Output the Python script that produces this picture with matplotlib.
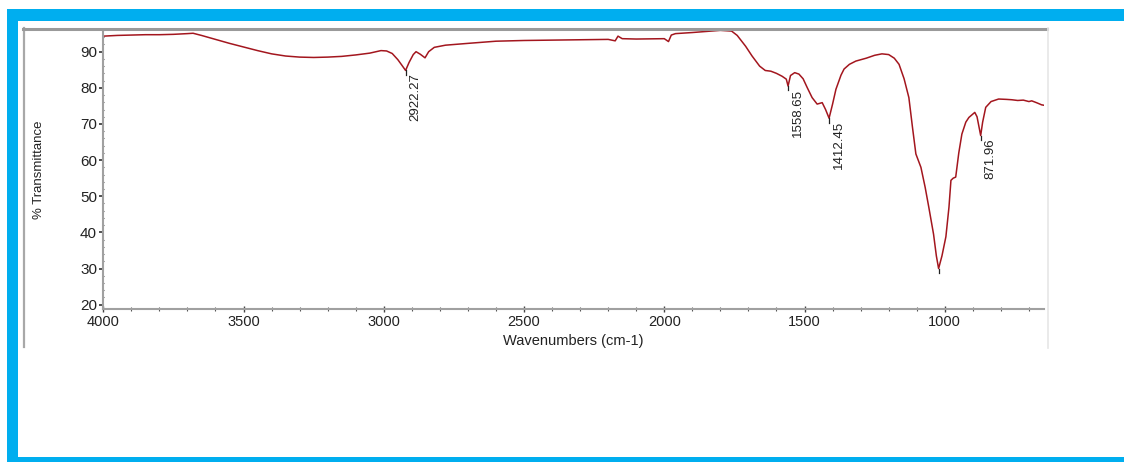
import matplotlib.pyplot as plt
plt.switch_backend('Agg')
import matplotlib
from matplotlib.lines import Line2D
from matplotlib.patches import Rectangle
from matplotlib.ticker import MultipleLocator
import numpy as np

plt.rcParams.update({
    'font.family': ['Liberation Sans', 'DejaVu Sans'],
    'font.size': 10.5,
})

# FTIR spectrum, wavenumber (cm-1) vs % transmittance
wavenumber = [4000, 3950, 3900, 3850, 3800, 3750, 3700, 3680, 3650, 3600,
              3550, 3500, 3450, 3400, 3350, 3300, 3250, 3200, 3150, 3100,
              3050, 3010, 2990, 2970, 2950, 2935, 2922.27, 2910, 2895, 2885,
              2870, 2853, 2840, 2820, 2780, 2700, 2600, 2500, 2400, 2300,
              2200, 2175, 2165, 2150, 2100, 2000, 1985, 1975, 1960, 1900,
              1850, 1800, 1760, 1740, 1710, 1687, 1660, 1640, 1620, 1600,
              1580, 1565, 1558.65, 1550, 1535, 1520, 1505, 1490, 1473, 1455,
              1437, 1425, 1412.45, 1400, 1388, 1370, 1359, 1340, 1317, 1280,
              1250, 1224, 1200, 1180, 1163, 1145, 1128, 1115, 1103, 1085,
              1070, 1057, 1040, 1030, 1022, 1010, 996, 985, 978, 970,
              961, 950, 939, 925, 914, 893, 885, 871.96, 865, 854,
              835, 808, 780, 761, 740, 720, 700, 690, 670, 655, 648]
transmittance = [94.3, 94.5, 94.6, 94.7, 94.7, 94.8, 95.0, 95.1, 94.5, 93.4,
                 92.3, 91.3, 90.3, 89.4, 88.8, 88.5, 88.4, 88.5, 88.7, 89.1,
                 89.6, 90.3, 90.2, 89.5, 87.8, 86.2, 84.8, 87.0, 89.2, 90.0,
                 89.3, 88.3, 90.0, 91.2, 91.8, 92.3, 92.9, 93.1, 93.2, 93.3,
                 93.4, 93.0, 94.3, 93.6, 93.5, 93.6, 92.8, 94.6, 95.0, 95.3,
                 95.6, 95.9, 95.7, 94.5, 91.5, 88.8, 86.0, 84.8, 84.6, 84.0,
                 83.2, 82.4, 80.5, 83.4, 84.2, 83.8, 82.5, 80.0, 77.3, 75.5,
                 75.9, 74.0, 71.6, 75.5, 79.6, 83.5, 85.2, 86.5, 87.4, 88.2,
                 89.0, 89.4, 89.2, 88.2, 86.5, 82.5, 77.3, 69.0, 61.7, 58.0,
                 52.5, 47.0, 39.5, 33.5, 30.0, 33.5, 38.8, 47.0, 54.4, 55.0,
                 55.3, 62.0, 67.2, 70.5, 71.8, 73.2, 72.0, 66.8, 70.5, 74.6,
                 76.2, 76.9, 76.8, 76.7, 76.5, 76.6, 76.2, 76.4, 75.8, 75.3, 75.2]

# picked peaks (empty label = marker only)
peak_pos = [2922.27, 1558.65, 1412.45, 1022, 871.96]
peak_labels = ['2922.27', '1558.65', '1412.45', '', '871.96']

W, H = 1124, 462
fig = plt.figure(figsize=(W / 100, H / 100), dpi=100)


def fx(px):
    return px / W


def fy(py):
    return 1 - py / H


# blue border
blue = '#00AEEF'
fig.add_artist(Rectangle((fx(7), fy(20.5)), fx(W - 7), 11.5 / H, transform=fig.transFigure,
                         color=blue, lw=0))
fig.add_artist(Rectangle((fx(7), fy(462)), fx(10.5), fy(9) - fy(462), transform=fig.transFigure,
                         color=blue, lw=0))
fig.add_artist(Rectangle((fx(7), fy(462)), fx(W - 7), 5 / H, transform=fig.transFigure,
                         color=blue, lw=0))

# grey frame round the plot
fig.add_artist(Line2D([fx(23.5), fx(23.5)], [fy(28), fy(347)], transform=fig.transFigure,
                      color='#a8a8a8', lw=1.6))
fig.add_artist(Line2D([fx(23), fx(1047)], [fy(29.3), fy(29.3)], transform=fig.transFigure,
                      color='#9a9a9a', lw=2.2))
fig.add_artist(Line2D([fx(1047.5), fx(1047.5)], [fy(28), fy(348)], transform=fig.transFigure,
                      color='#e6e6e6', lw=1.2))

ax = fig.add_axes([fx(103.3), fy(309), fx(1043.5) - fx(103.3), fy(30) - fy(309)])
ax.plot(wavenumber, transmittance, color='#A3161E', lw=1.1)

wn_inc = np.array(wavenumber[::-1])
tr_inc = np.array(transmittance[::-1])
for pos, lab in zip(peak_pos, peak_labels):
    yv = np.interp(pos, wn_inc, tr_inc)
    ax.plot([pos, pos], [yv, yv - 1.2], color='#222222', lw=0.9)
    if lab:
        ax.annotate(lab, xy=(pos, yv), xytext=(3, -2), textcoords='offset points',
                    rotation=90, ha='left', va='top', fontsize=9.5, color='#222222')

ax.set_xlim(4000, 648)
ax.set_ylim(18.8, 96.0)
ax.xaxis.set_major_locator(MultipleLocator(500))
ax.xaxis.set_minor_locator(MultipleLocator(100))
ax.yaxis.set_major_locator(MultipleLocator(10))
ax.yaxis.set_minor_locator(MultipleLocator(2))
ax.set_yticks([20, 30, 40, 50, 60, 70, 80, 90])

for side in ['top', 'right']:
    ax.spines[side].set_visible(False)
for side in ['left', 'bottom']:
    ax.spines[side].set_color('#a0a0a0')
    ax.spines[side].set_linewidth(1.5)

ax.tick_params(axis='x', which='major', direction='inout', length=4, width=1,
               color='#444444', labelsize=10.5, labelcolor='#222222', pad=2)
ax.tick_params(axis='x', which='minor', direction='inout', length=2.5, width=0.8,
               color='#555555')
ax.tick_params(axis='y', which='major', direction='out', length=3, width=1.2,
               color='#333333', labelsize=11, labelcolor='#222222', pad=1.5)
ax.tick_params(axis='y', which='minor', direction='inout', length=2, width=0.8,
               color='#555555')

ax.set_xlabel('Wavenumbers (cm-1)', fontsize=10.5, color='#222222', labelpad=4)
ax.set_ylabel('% Transmittance', fontsize=9.5, color='#222222')
ax.yaxis.set_label_coords(-0.062, 0.5)

fig.savefig('out.png', dpi=100)
